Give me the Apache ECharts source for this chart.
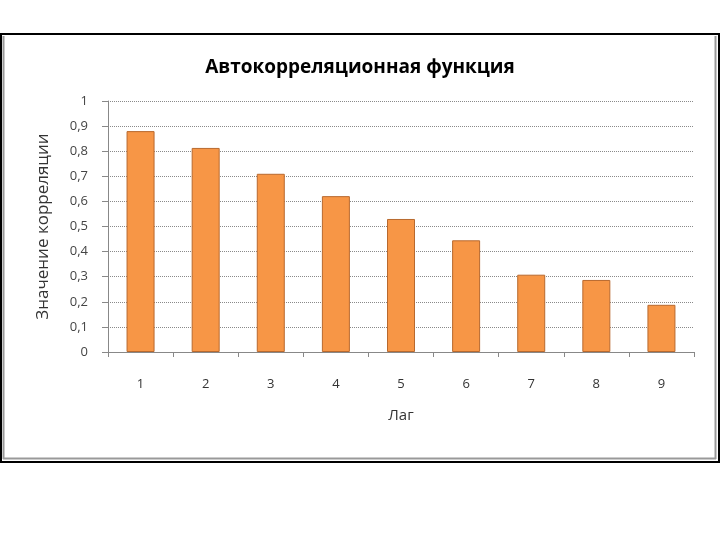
<!DOCTYPE html>
<html><head><meta charset="utf-8">
<script src="https://cdn.jsdelivr.net/npm/echarts@6/dist/echarts.min.js"></script>
<style>html,body{margin:0;padding:0;background:#fff}#c{width:720px;height:540px}</style>
</head><body><div id="c"></div>
<script>
const categories = ['1','2','3','4','5','6','7','8','9'];
const values = [0.88, 0.813, 0.71, 0.621, 0.53, 0.445, 0.308, 0.287, 0.188];
const titleText = 'Автокорреляционная функция';
const xName = 'Лаг';
const yName = 'Значение корреляции';

const chart = echarts.init(document.getElementById('c'));
const F = 'Open Sans';
chart.setOption({
  animation: false,
  backgroundColor: '#fff',
  title: { text: titleText, left: 'center', top: 53,
    textStyle: { fontFamily: F, fontSize: 19, fontWeight: 'bold', color: '#000' } },
  grid: { left: 108, right: 26, top: 101, bottom: 188 },
  xAxis: {
    type: 'category', data: categories,
    name: xName, nameLocation: 'middle', nameGap: 56,
    nameTextStyle: { fontFamily: F, fontSize: 15, color: '#333' },
    axisLine: { lineStyle: { color: '#888', width: 1 } },
    axisTick: { show: true, length: 5, lineStyle: { color: '#888' } },
    axisLabel: { fontFamily: F, fontSize: 13, color: '#333', margin: 26 },
    splitLine: { show: false }
  },
  yAxis: {
    type: 'value', min: 0, max: 1, interval: 0.1,
    name: yName, nameLocation: 'middle', nameGap: 56, nameRotate: 90,
    nameTextStyle: { fontFamily: F, fontSize: 17, color: '#333' },
    axisLine: { show: true, lineStyle: { color: '#888', width: 1 } },
    axisTick: { show: true, length: 6, inside: false, lineStyle: { color: '#888' } },
    axisLabel: { fontFamily: F, fontSize: 13, color: '#444', margin: 20,
      formatter: v => (Math.round(v*10)/10).toString().replace('.', ',') },
    splitLine: { show: true, lineStyle: { color: '#8a8a8a', type: 'dotted', width: 1 } }
  },
  series: [{
    type: 'bar', data: values, barWidth: 28,
    itemStyle: { color: '#F79646', borderColor: '#B8692E', borderWidth: 1 }
  }],
  graphic: [
    { type: 'rect', shape: { x: 1, y: 34, width: 718, height: 428 }, style: { fill: 'none', stroke: '#000', lineWidth: 2 }, silent: true },
    { type: 'line', shape: { x1: 3.5, y1: 36, x2: 3.5, y2: 459 }, style: { stroke: '#999', lineWidth: 2 }, silent: true },
    { type: 'line', shape: { x1: 715.5, y1: 36, x2: 715.5, y2: 459 }, style: { stroke: '#999', lineWidth: 2 }, silent: true },
    { type: 'line', shape: { x1: 3, y1: 458.5, x2: 716, y2: 458.5 }, style: { stroke: '#999', lineWidth: 2 }, silent: true }
  ]
});
</script></body></html>
